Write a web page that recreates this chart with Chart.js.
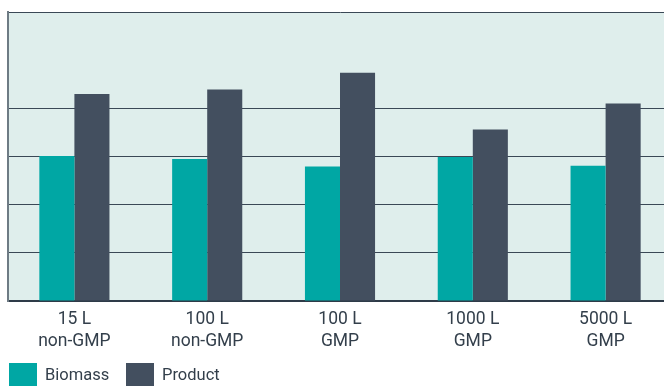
<!DOCTYPE html>
<html>
<head>
<meta charset="utf-8">
<script src="https://cdn.jsdelivr.net/npm/chart.js@4"></script>
<style>
  html, body { margin: 0; padding: 0; background: #fff; overflow: hidden; }
  #wrap { position: relative; width: 664px; height: 386px; overflow: hidden; }
  #wrap canvas { position: absolute; left: 0; top: 0; }
  .legend { position: absolute; top: 363px; left: 9px; font-family: Roboto, sans-serif; font-size: 16.5px; color: #333f4b; }
  .legend span { position: absolute; top: 0; white-space: nowrap; }
  .legend .box { width: 28px; height: 23px; }
  .legend .txt { top: 1px; line-height: 22px; }
</style>
</head>
<body>
<div id="wrap">
  <canvas id="myChart" width="672" height="386" style="width:672px;height:386px"></canvas>
  <div class="legend" id="legend"></div>
</div>
<script>
const categories = [['15 L', 'non-GMP'], ['100 L', 'non-GMP'], ['100 L', 'GMP'], ['1000 L', 'GMP'], ['5000 L', 'GMP']];
const biomass = [3.01, 2.95, 2.79, 2.99, 2.81];
const product = [4.30, 4.39, 4.74, 3.56, 4.10];
const seriesNames = ['Biomass', 'Product'];
const seriesColors = ['#00a7a4', '#434f5f'];

const ctx = document.getElementById('myChart');
new Chart(ctx, {
    type: 'bar',
    data: {
        labels: categories,
        datasets: [{
            label: seriesNames[0],
            data: biomass,
            backgroundColor: seriesColors[0]
        }, {
            label: seriesNames[1],
            data: product,
            backgroundColor: seriesColors[1]
        }]
    },
    options: {
        responsive: false,
        animation: false,
        layout: { padding: { left: 8, top: 12, right: 0, bottom: 0 } },
        categoryPercentage: 0.528,
        barPercentage: 1,
        plugins: {
            legend: { display: false },
            tooltip: { enabled: false }
        },
        scales: {
            x: {
                grid: { display: false },
                border: { display: true, color: '#2e3b48', width: 2 },
                ticks: {
                    color: '#333f4b',
                    padding: 0,
                    font: { family: 'Roboto', size: 17.5, lineHeight: 1.25 }
                },
                afterFit: (scale) => { scale.height = 85; }
            },
            y: {
                min: 0,
                max: 6,
                ticks: { display: false, stepSize: 1 },
                grid: {
                    drawTicks: false,
                    color: (c) => (c.tick && c.tick.value === 5) ? 'rgba(0,0,0,0)' : '#3a4856',
                    lineWidth: 1
                },
                border: { display: true, color: '#6e7b84', width: 2 },
                afterFit: (scale) => { scale.width = 0; }
            }
        }
    },
    plugins: [{
        id: 'plotBg',
        beforeDraw(chart) {
            const a = chart.chartArea;
            const c = chart.ctx;
            c.save();
            c.fillStyle = '#dfeeec';
            c.fillRect(a.left, a.top, a.right - a.left, a.bottom - a.top);
            c.restore();
        }
    }]
});

// legend below the chart
const legend = document.getElementById('legend');
const legendX = [0, 117];
seriesNames.forEach((name, i) => {
    const box = document.createElement('span');
    box.className = 'box';
    box.style.left = legendX[i] + 'px';
    box.style.background = seriesColors[i];
    const txt = document.createElement('span');
    txt.className = 'txt';
    txt.style.left = (legendX[i] + 36) + 'px';
    txt.textContent = name;
    legend.appendChild(box);
    legend.appendChild(txt);
});
</script>
</body>
</html>
